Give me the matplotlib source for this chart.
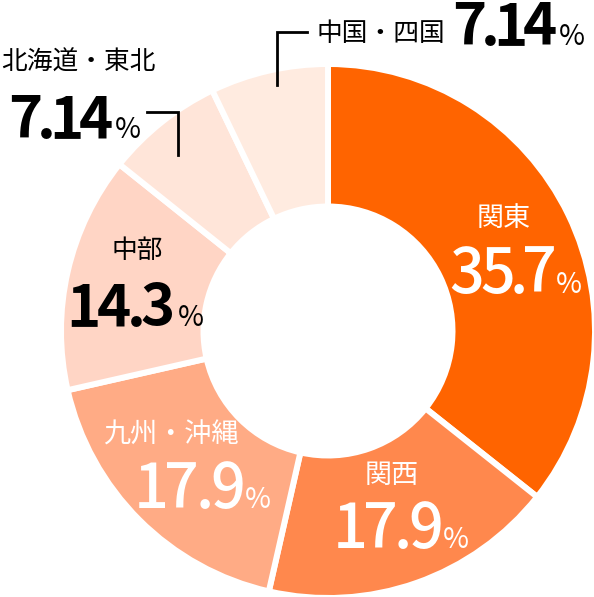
import matplotlib
matplotlib.use("Agg")
import matplotlib.pyplot as plt
from matplotlib.textpath import TextPath
from matplotlib.font_manager import FontProperties

plt.rcParams['font.family'] = ['Noto Sans CJK JP', 'DejaVu Sans']

regions = ['関東', '関西', '九州・沖縄', '中部', '北海道・東北', '中国・四国']
shares = [35.7, 17.9, 17.9, 14.3, 7.14, 7.14]
colors = ['#FF6400', '#FF884D', '#FFAB85', '#FFD5C5', '#FFE5D9', '#FFEBE0']
text_colors = ['white', 'white', 'white', 'black', 'black', 'black']

W, H = 594, 597
DPI = 100
fig = plt.figure(figsize=(W / DPI, H / DPI), dpi=DPI)
ax = fig.add_axes([0, 0, 1, 1])

cx, cy, R, r_in = 328, H - 331, 267, 124.5
ax.pie(shares, colors=colors, startangle=90, counterclock=False,
       radius=R, center=(cx, cy), frame=True,
       wedgeprops=dict(width=R - r_in, edgecolor='white', linewidth=4.3))
ax.set_xlim(0, W)
ax.set_ylim(0, H)
ax.set_aspect('equal')
ax.axis('off')

PX = DPI / 72.0


def ink(ch, size, weight):
    fp = FontProperties(family='Noto Sans CJK JP', weight=weight)
    ext = TextPath((0, 0), ch, size=size, prop=fp).get_extents()
    return ext.x0 * PX, ext.x1 * PX, ext.y1 * PX


def size_for_height(px, ch, weight):
    _, _, h = ink(ch, 10, weight)
    return 10 * px / h


SIZES = {'medium': size_for_height(45, '7', 'medium'),
         'bold': size_for_height(43, '7', 'bold')}
PCT_SIZE = size_for_height(21, '%', 'regular')


def tracked(x_left, x_right, y, s, size, color, weight, min_track=1.5):
    widths = []
    for ch in s:
        a, b, _ = ink(ch, size, weight)
        widths.append(b - a)
    n = max(len(s) - 1, 1)
    track = (x_right - x_left - sum(widths)) / n
    if track < min_track:
        track = min_track
        total = sum(widths) + track * n
        x_left = (x_left + x_right) / 2 - total / 2
    x = x_left
    for ch, w in zip(s, widths):
        ax.text(x + w / 2, y, ch, ha='center', va='baseline', fontsize=size,
                color=color, fontweight=weight)
        x += w + track
    return x - track


# layout: (label x, label y, label ha, label size, num left, num right, pct gap, pct width, baseline y)
layout = [
    (504, 218, 'center', 19.5, 455, 551, 553, 573, 293),
    (392, 475, 'center', 19.5, 337, 440, 443, 469, 548),
    (171, 435, 'center', 19.5, 138, 242, 245, 271, 508),
    (137, 251, 'center', 18.5, 73, 170, 175, 197, 326),
    (1, 63, 'left', 18.5, 13, 110, 113, 137, 138),
    (317, 34, 'left', 18.5, 458, 553, 556, 580, 45),
]

for i, (name, val) in enumerate(zip(regions, shares)):
    lx, ly, lha, ls, nl, nr, pl, pr, by = layout[i]
    tc = text_colors[i]
    weight = 'medium' if tc == 'white' else 'bold'
    ax.text(lx, H - ly, name, ha=lha, va='center', fontsize=ls, color=tc)
    end = tracked(nl, nr, H - by, f'{val:g}', SIZES[weight], tc, weight)
    gap = pl - nr
    ax.text(max(pl, end + gap), H - by, '%', ha='left', va='baseline',
            fontsize=PCT_SIZE, color=tc, fontweight='regular')

# leader lines
ax.plot([147, 178, 178], [H - 112, H - 112, H - 155], color='black', lw=2,
        solid_joinstyle='miter')
ax.plot([277, 277, 307], [H - 85, H - 32, H - 32], color='black', lw=2,
        solid_joinstyle='miter')

fig.savefig('out.png', dpi=DPI)
